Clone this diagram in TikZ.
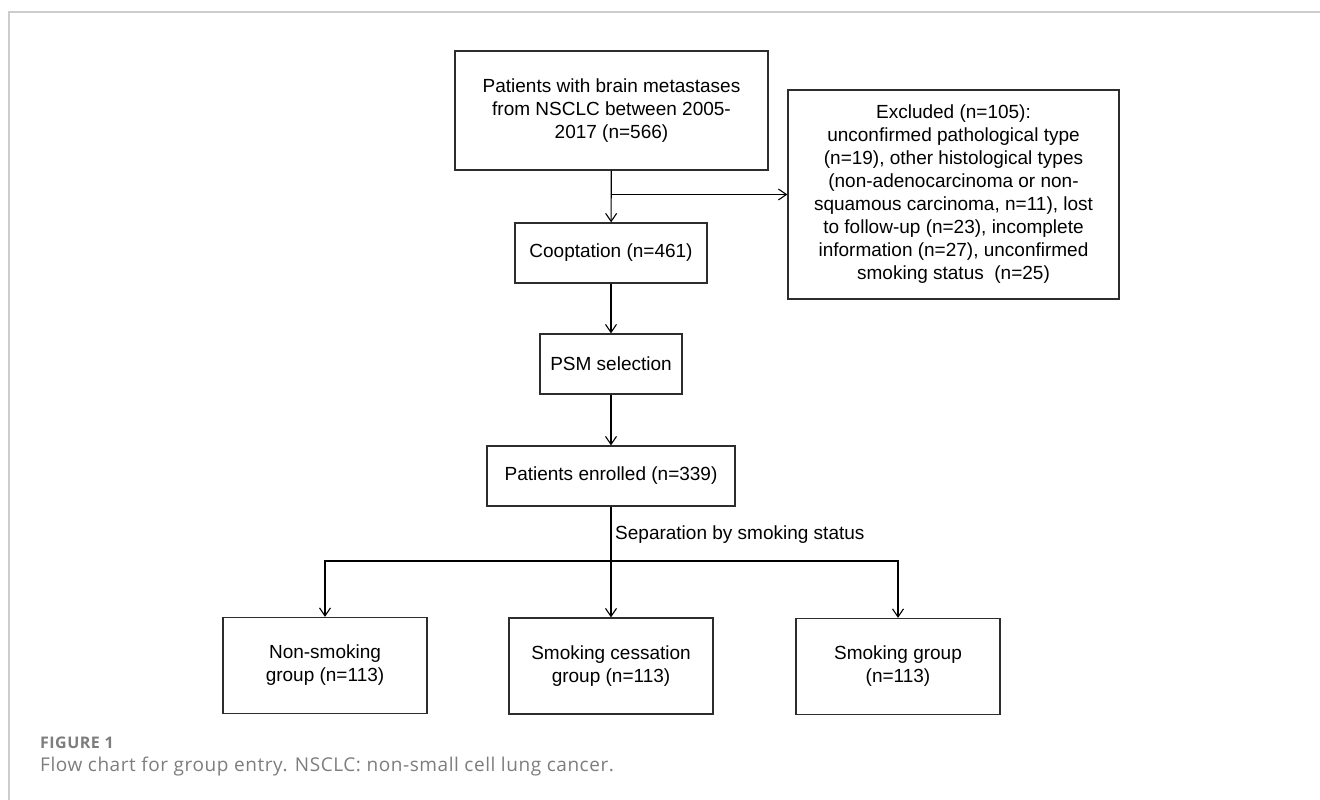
\documentclass[tikz,border=0pt]{standalone}
\usepackage{fontspec}
\setmainfont{Liberation Sans}
\newfontfamily\capfont{Open Sans}
\newfontfamily\capfontwide[LetterSpace=3]{Open Sans}
\usepackage{xcolor}
\usepackage{tikz}
\usetikzlibrary{arrows.meta}
\definecolor{boxline}{RGB}{45, 45, 45}
\definecolor{frameline}{RGB}{205, 205, 205}
\definecolor{captext}{RGB}{125, 125, 125}

\begin{document}
\begin{tikzpicture}[x=1pt, y=-1pt,
  flowbox/.style={draw=boxline, line width=1.3pt, align=center, inner sep=0pt,
    font=\fontsize{19}{23}\selectfont},
  flowarrow/.style={line width=1.1pt, -{Straight Barb[length=8pt, width=11pt]}}]
\useasboundingbox (0,0) rectangle (1320,800);

% Page frame
\draw[frameline, line width=1.3pt] (1320,12) -- (9,12) -- (9,800);

% Screening chain
\node[flowbox, minimum width=313, minimum height=119] (start) at (611.5,110.5)
  {Patients with brain metastases\\from NSCLC between 2005-\\2017 (n=566)};
\node[flowbox, minimum width=331, minimum height=209] (excl) at (953.5,194.5)
  {Excluded (n=105):\\unconfirmed pathological type\\(n=19), other histological types\\(non-adenocarcinoma or non-\\squamous carcinoma, n=11), lost\\to follow-up (n=23), incomplete\\information (n=27), unconfirmed\\smoking status\ \ (n=25)};
\node[flowbox, minimum width=192, minimum height=60] (coopt) at (611,253) {Cooptation (n=461)};
\node[flowbox, minimum width=142, minimum height=60] (psm) at (611,364) {PSM selection};
\node[flowbox, minimum width=248, minimum height=60] (enrol) at (611,476) {Patients enrolled (n=339)};

% Groups
\node[flowbox, minimum width=204, minimum height=96] (nonsmk) at (325,665.5) {Non-smoking\\group (n=113)};
\node[flowbox, minimum width=204, minimum height=96] (cess) at (611,666) {Smoking cessation\\group (n=113)};
\node[flowbox, minimum width=204, minimum height=96] (smk) at (898,666.5) {Smoking group\\(n=113)};

\coordinate (split) at (start.south |- excl.west);
\coordinate (fork) at (611,561);
\node[anchor=west, inner sep=0pt, font=\fontsize{19}{23}\selectfont] (sep) at (615,535)
  {Separation by smoking status};

% Connectors
\draw[flowarrow] (start) -- (coopt);
\draw[flowarrow] (split) -- (excl.west);
\draw[flowarrow] (coopt) -- (psm);
\draw[flowarrow] (psm) -- (enrol);
\draw[flowarrow] (enrol) -- (cess);
\draw[flowarrow] (fork) -| (nonsmk.north);
\draw[flowarrow] (fork) -| (smk.north);

% Caption
\node[anchor=west, inner sep=0pt, text=captext,
  font=\capfontwide\bfseries\fontsize{16}{18}\selectfont] (fig) at (40,743) {FIGURE 1};
\node[anchor=west, inner sep=0pt, text=captext,
  font=\capfontwide\fontsize{19}{22}\selectfont] (cap) at (40,767)
  {Flow chart for group entry. NSCLC: non-small cell lung cancer.};
\end{tikzpicture}
\end{document}
